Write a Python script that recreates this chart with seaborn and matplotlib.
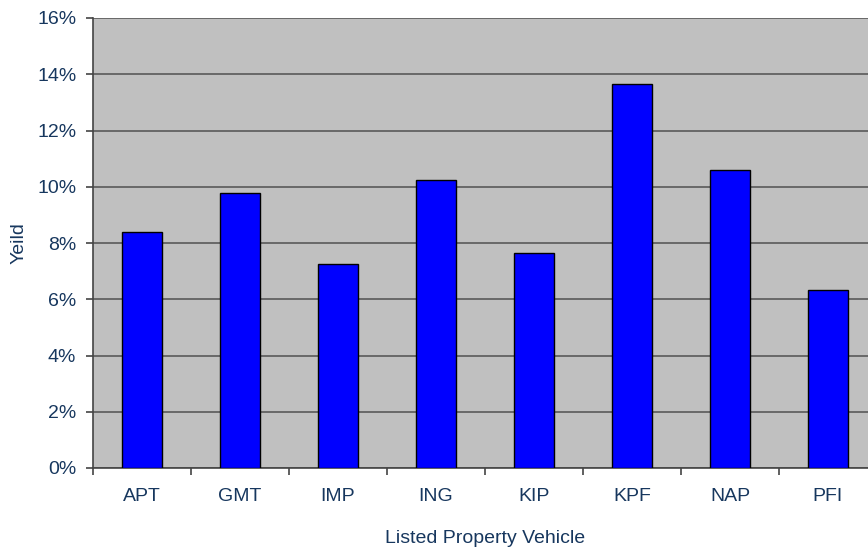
import matplotlib
matplotlib.use("Agg")
import matplotlib.pyplot as plt
import matplotlib.ticker as mticker
import seaborn as sns

# Yield by listed property vehicle (%)
vehicles = ["APT", "GMT", "IMP", "ING", "KIP", "KPF", "NAP", "PFI"]
yields = [8.39, 9.78, 7.25, 10.25, 7.66, 13.64, 10.61, 6.33]

text_col = "#17375E"

sns.set_style("white")
plt.rcParams["font.family"] = ["Liberation Sans", "DejaVu Sans"]

fig = plt.figure(figsize=(8.68, 5.49), dpi=100)
ax = fig.add_axes([93 / 868, 81 / 549, 784 / 868, 450 / 549])
ax.set_facecolor("#C0C0C0")

sns.barplot(x=vehicles, y=yields, color="#0000FF", saturation=1, width=0.4,
            edgecolor="black", linewidth=1, ax=ax, zorder=3)

ax.set_ylim(0, 16)
ax.set_xlim(-0.5, len(vehicles) - 0.5)
ax.yaxis.set_major_locator(mticker.MultipleLocator(2))
ax.yaxis.set_major_formatter(mticker.FuncFormatter(lambda v, p: f"{v:.0f}%"))
ax.grid(axis="y", color="#505050", linewidth=1.1, zorder=0)
ax.set_axisbelow(True)

# x ticks at category boundaries, labels centred
ax.set_xticks([i - 0.5 for i in range(len(vehicles) + 1)], minor=True)
ax.tick_params(axis="x", which="major", length=0, pad=14.5, labelsize=14, labelcolor=text_col)
ax.tick_params(axis="x", which="minor", length=5, width=1.2, color="#444444", direction="out")
ax.tick_params(axis="y", length=5, width=1.2, color="#444444", direction="out",
               pad=7, labelsize=14, labelcolor=text_col)
ax.xaxis.set_tick_params(bottom=True, which="both")
ax.yaxis.set_tick_params(left=True)

for side in ["top", "right"]:
    ax.spines[side].set_visible(False)
for side in ["left", "bottom"]:
    ax.spines[side].set_color("#444444")
    ax.spines[side].set_linewidth(1.2)

ax.set_xlabel("Listed Property Vehicle", fontsize=14, color=text_col, labelpad=18)
ax.set_ylabel("Yeild", fontsize=14, color=text_col)
ax.yaxis.set_label_coords(-0.084, 0.5)

fig.savefig("out.png", dpi=100)
